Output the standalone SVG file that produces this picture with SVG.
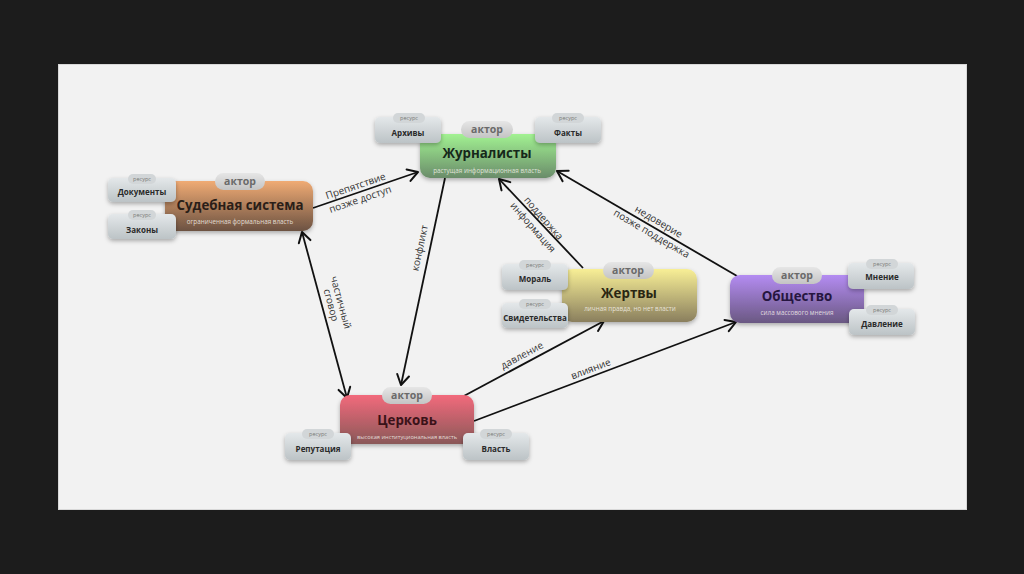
<svg xmlns="http://www.w3.org/2000/svg" width="1024" height="574" viewBox="0 0 1024 574">
<defs>
<linearGradient id="gBrown" x1="0" y1="0" x2="0" y2="1"><stop offset="0" stop-color="#f0ab74"/><stop offset="1" stop-color="#6c5242"/></linearGradient>
<linearGradient id="gGreen" x1="0" y1="0" x2="0" y2="1"><stop offset="0" stop-color="#a2f292"/><stop offset="1" stop-color="#6a8c6a"/></linearGradient>
<linearGradient id="gYellow" x1="0" y1="0" x2="0" y2="1"><stop offset="0" stop-color="#f8ef96"/><stop offset="1" stop-color="#8a7f5e"/></linearGradient>
<linearGradient id="gPurple" x1="0" y1="0" x2="0" y2="1"><stop offset="0" stop-color="#b48cf2"/><stop offset="1" stop-color="#6a5882"/></linearGradient>
<linearGradient id="gRed" x1="0" y1="0" x2="0" y2="1"><stop offset="0" stop-color="#f26a7c"/><stop offset="1" stop-color="#8a5858"/></linearGradient>
<linearGradient id="gRes" x1="0" y1="0" x2="0" y2="1"><stop offset="0" stop-color="#e4e8ea"/><stop offset="1" stop-color="#bcc3c6"/></linearGradient>
<linearGradient id="gPill" x1="0" y1="0" x2="0" y2="1"><stop offset="0" stop-color="#e6e6e6"/><stop offset="1" stop-color="#c4c4c4"/></linearGradient>
<filter id="sh" x="-20%" y="-20%" width="140%" height="150%"><feDropShadow dx="0" dy="2" stdDeviation="2" flood-color="#000" flood-opacity="0.3"/></filter>
<marker id="arr" markerUnits="userSpaceOnUse" markerWidth="16" markerHeight="16" viewBox="-12 -8 14 16" refX="0" refY="0" orient="auto-start-reverse">
<path d="M-10,-6 L0,0 L-10,6" fill="none" stroke="#111" stroke-width="2" stroke-linecap="round" stroke-linejoin="round"/>
</marker>
</defs>
<style>
text{font-family:"Open Sans","Noto Sans","DejaVu Sans",sans-serif}
.title{font-size:13.3px;font-weight:700;fill:#2a1e18;text-anchor:middle}
.sub{font-size:6.3px;fill:#f4f0ea;fill-opacity:0.85;text-anchor:middle}
.actor{font-size:10.5px;font-weight:700;fill:#6a6a6a;text-anchor:middle}
.rname{font-size:8px;font-weight:700;fill:#2a2a2a;text-anchor:middle}
.rtag{font-size:5.5px;fill:#777;text-anchor:middle}
.res{fill:url(#gRes);filter:url(#sh)}
.pill{fill:url(#gPill)}
.rpill{fill:#d2d6d8}
.conn{stroke:#111;stroke-width:1.8;fill:none}
.lbl{font-size:10px;fill:#333;text-anchor:middle}
</style>
<rect x="0" y="0" width="1024" height="574" fill="#1c1c1c"/>
<rect x="58.5" y="64.5" width="908" height="445" fill="#f2f2f2" stroke="#d8d8d8" stroke-width="1"/>

<g id="connectors">
<line class="conn" x1="313" y1="208" x2="418" y2="172" marker-end="url(#arr)"/>
<line class="conn" x1="302" y1="232" x2="347" y2="398" marker-start="url(#arr)" marker-end="url(#arr)"/>
<line class="conn" x1="445" y1="178" x2="401" y2="385" marker-end="url(#arr)"/>
<line class="conn" x1="583" y1="268" x2="499" y2="179" marker-end="url(#arr)"/>
<line class="conn" x1="737" y1="276" x2="557" y2="171" marker-end="url(#arr)"/>
<line class="conn" x1="462" y1="397" x2="604" y2="321" marker-end="url(#arr)"/>
<line class="conn" x1="474" y1="421" x2="736" y2="322" marker-end="url(#arr)"/>
<g transform="translate(358,193) rotate(-18.8)"><text class="lbl" y="-4">Препятствие</text><text class="lbl" y="10">позже доступ</text></g>
<g transform="translate(324,307) rotate(74.8)"><text class="lbl" y="-14">частичный</text><text class="lbl" y="-4">сговор</text></g>
<g transform="translate(429,250) rotate(-78)"><text class="lbl" y="-6">конфликт</text></g>
<g transform="translate(538,223) rotate(48.8)"><text class="lbl" y="-4">поддержка</text><text class="lbl" y="10">информация</text></g>
<g transform="translate(655,228) rotate(30.4)"><text class="lbl" y="-4">недоверие</text><text class="lbl" y="10">позже поддержка</text></g>
<g transform="translate(525,361) rotate(-28.3)"><text class="lbl" y="-3">давление</text></g>
<g transform="translate(593,375) rotate(-20.8)"><text class="lbl" y="-3">влияние</text></g>
</g>

<g id="node-sud"><rect x="165" y="181" width="148" height="50" rx="10" fill="url(#gBrown)" filter="url(#sh)"/><rect class="pill" x="215" y="173" width="50" height="17" rx="8.5"/><text class="actor" x="240" y="185">актор</text><text class="title" x="240" y="210">Судебная система</text><text class="sub" x="240" y="224">ограниченная формальная власть</text></g>
<g id="res-dokumenty"><rect class="res" x="108" y="178" width="68" height="24" rx="5"/><rect class="rpill" x="128" y="174" width="28" height="10" rx="5"/><text class="rtag" x="142" y="181">ресурс</text><text class="rname" x="142" y="195">Документы</text></g>
<g id="res-zakony"><rect class="res" x="108" y="214" width="68" height="25" rx="5"/><rect class="rpill" x="128" y="210" width="28" height="10" rx="5"/><text class="rtag" x="142" y="217">ресурс</text><text class="rname" x="142" y="233">Законы</text></g>

<g id="node-zhurn"><rect x="420" y="134" width="136" height="44" rx="10" fill="url(#gGreen)" filter="url(#sh)"/><rect class="pill" x="461" y="121" width="52" height="17" rx="8.5"/><text class="actor" x="487" y="133">актор</text><text class="title" x="487" y="158" style="fill:#16281a">Журналисты</text><text class="sub" x="487" y="173">растущая информационная власть</text></g>
<g id="res-arhivy"><rect class="res" x="375" y="117" width="66" height="26" rx="5"/><rect class="rpill" x="393" y="113" width="32" height="10" rx="5"/><text class="rtag" x="409" y="120">ресурс</text><text class="rname" x="408" y="136">Архивы</text></g>
<g id="res-fakty"><rect class="res" x="535" y="117" width="66" height="26" rx="5"/><rect class="rpill" x="552" y="113" width="32" height="10" rx="5"/><text class="rtag" x="568" y="120">ресурс</text><text class="rname" x="568" y="136">Факты</text></g>

<g id="node-zhertvy"><rect x="562" y="269" width="135" height="53" rx="10" fill="url(#gYellow)" filter="url(#sh)"/><rect class="pill" x="603" y="262" width="51" height="17" rx="8.5"/><text class="actor" x="628" y="274">актор</text><text class="title" x="629" y="298" style="fill:#2a2612">Жертвы</text><text class="sub" x="630" y="311">личная правда, но нет власти</text></g>
<g id="res-moral"><rect class="res" x="502" y="264" width="66" height="26" rx="5"/><rect class="rpill" x="519" y="260" width="32" height="10" rx="5"/><text class="rtag" x="535" y="267">ресурс</text><text class="rname" x="535" y="282">Мораль</text></g>
<g id="res-svid"><rect class="res" x="502" y="303" width="66" height="25" rx="5"/><rect class="rpill" x="519" y="299" width="32" height="10" rx="5"/><text class="rtag" x="535" y="306">ресурс</text><text class="rname" x="535" y="321">Свидетельства</text></g>

<g id="node-obsh"><rect x="730" y="275" width="134" height="48" rx="10" fill="url(#gPurple)" filter="url(#sh)"/><rect class="pill" x="772" y="267" width="50" height="17" rx="8.5"/><text class="actor" x="797" y="279">актор</text><text class="title" x="797" y="301" style="fill:#261640">Общество</text><text class="sub" x="797" y="315">сила массового мнения</text></g>
<g id="res-mnenie"><rect class="res" x="848" y="263" width="66" height="26" rx="5"/><rect class="rpill" x="866" y="259" width="32" height="10" rx="5"/><text class="rtag" x="882" y="266">ресурс</text><text class="rname" x="882" y="280">Мнение</text></g>
<g id="res-davlenie"><rect class="res" x="849" y="309" width="66" height="26" rx="5"/><rect class="rpill" x="866" y="305" width="32" height="10" rx="5"/><text class="rtag" x="882" y="312">ресурс</text><text class="rname" x="882" y="327">Давление</text></g>

<g id="node-cerkov"><rect x="340" y="395" width="134" height="49" rx="10" fill="url(#gRed)" filter="url(#sh)"/><rect class="pill" x="382" y="387" width="50" height="17" rx="8.5"/><text class="actor" x="407" y="399">актор</text><text class="title" x="407" y="425" style="fill:#3a1218">Церковь</text><text class="sub" x="407" y="439" style="font-size:5.7px">высокая институциональная власть</text></g>
<g id="res-reput"><rect class="res" x="285" y="433" width="66" height="27" rx="5"/><rect class="rpill" x="302" y="429" width="32" height="10" rx="5"/><text class="rtag" x="318" y="436">ресурс</text><text class="rname" x="318" y="452">Репутация</text></g>
<g id="res-vlast"><rect class="res" x="463" y="433" width="66" height="27" rx="5"/><rect class="rpill" x="480" y="429" width="32" height="10" rx="5"/><text class="rtag" x="496" y="436">ресурс</text><text class="rname" x="496" y="452">Власть</text></g>
</svg>
